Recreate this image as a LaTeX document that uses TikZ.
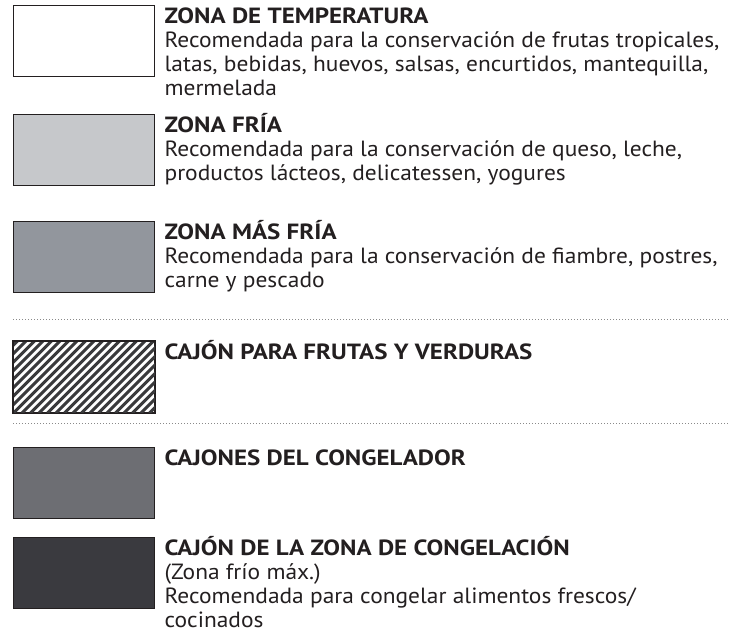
\documentclass[tikz,border=0pt]{standalone}
\usepackage{fontspec}
\setmainfont{PT Sans}[FakeStretch=1.065, BoldFeatures={FakeStretch=1.136}]
\usetikzlibrary{positioning}
\definecolor{zoneline}{HTML}{231F20}
\definecolor{zonetext}{HTML}{231F20}
\definecolor{zonehatch}{HTML}{3A3A3C}
\definecolor{zonecold}{HTML}{C6C8CB}
\definecolor{zonecolder}{HTML}{92969D}
\definecolor{zonedrawer}{HTML}{6D6E73}
\definecolor{zonefreeze}{HTML}{3A3A3F}
\definecolor{zonesep}{HTML}{8A8A8A}

\begin{document}
\begin{tikzpicture}[x=1bp, y=-1bp,
  zbox/.style={draw=zoneline, line width=1.4bp, minimum width=141bp,
               minimum height=71bp, inner sep=0pt, anchor=north west},
  desc/.style={anchor=north west, inner sep=0pt, align=left, text=zonetext,
               font=\fontsize{22bp}{24bp}\selectfont},
  sep/.style={draw=zonesep, line width=0.9bp, dash pattern=on 0.9bp off 2.1bp}
]
\useasboundingbox (0,0) rectangle (745,639);
% colour boxes
\node[zbox, fill=white]       (z1) at (13,5)   {};
\node[zbox, fill=zonecold]    (z2) at (13,114) {};
\node[zbox, fill=zonecolder]  (z3) at (13,221) {};
\node[zbox, fill=white]       (z4) at (13,341) {};
\node[zbox, fill=zonedrawer]  (z5) at (13,447) {};
\node[zbox, fill=zonefreeze]  (z6) at (13,537) {};
% hatching of the fruit drawer
\begin{scope}
  \clip (z4.north west) rectangle (z4.south east);
  \foreach \i in {0,...,27}
    \draw[zonehatch, line width=3bp] (\i*8.5-80,413) -- (\i*8.5-8,341);
\end{scope}
\draw[zoneline, line width=1.4bp] (z4.north west) rectangle (z4.south east);
% texts
\node[desc] (t1) at ([xshift=9bp, yshift=4bp]z1.north east)
  {\rule{0pt}{22bp}\textbf{ZONA DE TEMPERATURA}\\
   Recomendada para la conservación de frutas tropicales,\\
   latas, bebidas, huevos, salsas, encurtidos, mantequilla,\\
   mermelada};
\node[desc] (t2) at ([xshift=9bp, yshift=4bp]z2.north east)
  {\rule{0pt}{22bp}\textbf{ZONA FRÍA}\\
   Recomendada para la conservación de queso, leche,\\
   productos lácteos, delicatessen, yogures};
\node[desc] (t3) at ([xshift=9bp, yshift=4bp]z3.north east)
  {\rule{0pt}{22bp}\textbf{ZONA MÁS FRÍA}\\
   Recomendada para la conservación de fiambre, postres,\\
   carne y pescado};
\node[desc] (t4) at ([xshift=9bp, yshift=4bp]z4.north east)
  {\rule{0pt}{22bp}\textbf{CAJÓN PARA FRUTAS Y VERDURAS}};
\node[desc] (t5) at ([xshift=9bp, yshift=4bp]z5.north east)
  {\rule{0pt}{22bp}\textbf{CAJONES DEL CONGELADOR}};
\node[desc] (t6) at ([xshift=9bp, yshift=4bp]z6.north east)
  {\rule{0pt}{22bp}\textbf{CAJÓN DE LA ZONA DE CONGELACIÓN}\\
   (Zona frío máx.)\\
   Recomendada para congelar alimentos frescos/\\
   cocinados};
% separators
\draw[sep] (13,319) -- (730,319);
\draw[sep] (13,423) -- (730,423);
\end{tikzpicture}
\end{document}
